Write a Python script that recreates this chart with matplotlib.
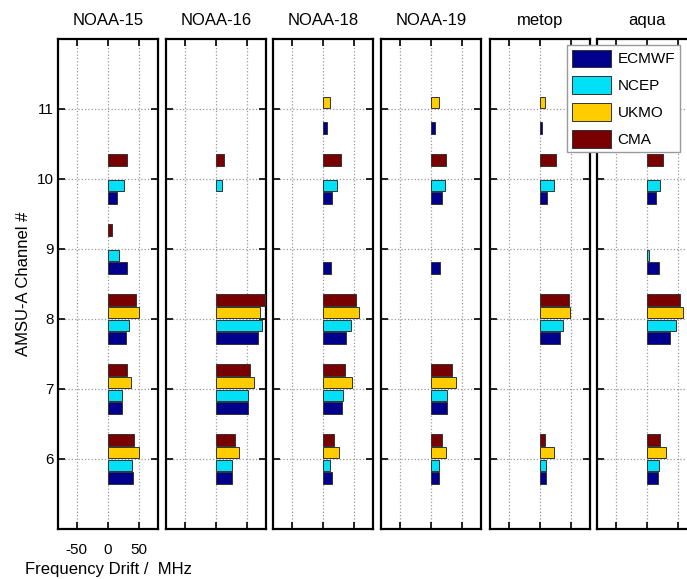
import numpy as np
import matplotlib
matplotlib.use("Agg")
import matplotlib.pyplot as plt

plt.rcParams['font.family'] = ['Liberation Sans', 'DejaVu Sans']
plt.rcParams['axes.unicode_minus'] = False

# canales AMSU-A y centros
canales = [6, 7, 8, 9, 10, 11]
centros = ["ECMWF", "NCEP", "UKMO", "CMA"]
colores = ["#00008C", "#00E1F8", "#FFCC00", "#780000"]
satelites = ["NOAA-15", "NOAA-16", "NOAA-18", "NOAA-19", "metop", "aqua"]

# deriva de frecuencia (MHz), una lista por canal 6..11 (0 = sin barra)
noaa15_ecmwf = [40, 23, 28, 31, 14, 0]
noaa15_ncep = [38, 23, 33, 17, 26, 0]
noaa15_ukmo = [50, 37, 50, 0, 0, 0]
noaa15_cma = [42, 31, 44, 7, 31, 0]

noaa16_ecmwf = [25, 51, 67, 0, 0, 0]
noaa16_ncep = [25, 51, 73, 0, 9, 0]
noaa16_ukmo = [37, 60, 71, 0, 0, 0]
noaa16_cma = [31, 55, 79, 0, 13, 0]

noaa18_ecmwf = [14, 30, 36, 12, 15, 6.5]
noaa18_ncep = [11, 32, 45, 0, 22, 0]
noaa18_ukmo = [26, 46, 58, 0, 0, 11]
noaa18_cma = [17, 35, 52, 0, 28, 0]

noaa19_ecmwf = [12, 26, 0, 15, 17, 6.5]
noaa19_ncep = [12, 26, 0, 0, 22, 0]
noaa19_ukmo = [24, 40, 0, 0, 0, 12]
noaa19_cma = [17, 34, 0, 0, 24, 0]

metop_ecmwf = [9, 0, 32, 0, 11, 3]
metop_ncep = [9, 0, 37, 0, 22, 0]
metop_ukmo = [22, 0, 48, 0, 0, 8]
metop_cma = [7.5, 0, 46, 0, 26, 0]

aqua_ecmwf = [17, 0, 37, 19, 14, 0]
aqua_ncep = [19, 0, 46, 3, 21, 0]
aqua_ukmo = [30, 0, 58, 0, 0, 0]
aqua_cma = [21, 0, 53, 0, 26, 0]

datos = [
    [noaa15_ecmwf, noaa15_ncep, noaa15_ukmo, noaa15_cma],
    [noaa16_ecmwf, noaa16_ncep, noaa16_ukmo, noaa16_cma],
    [noaa18_ecmwf, noaa18_ncep, noaa18_ukmo, noaa18_cma],
    [noaa19_ecmwf, noaa19_ncep, noaa19_ukmo, noaa19_cma],
    [metop_ecmwf, metop_ncep, metop_ukmo, metop_cma],
    [aqua_ecmwf, aqua_ncep, aqua_ukmo, aqua_cma],
]

W, H = 687, 579
fig = plt.figure(figsize=(W / 100, H / 100), dpi=100)

lefts = [58, 166, 273, 381, 490, 597]
top, bottom, ancho = 39, 529, 100
desp = [-0.27, -0.09, 0.09, 0.27]
alto = 0.165

y = np.array(canales)
hs = []
for i in range(len(satelites)):
    ax = fig.add_axes([lefts[i] / W, (H - bottom) / H, ancho / W, (bottom - top) / H])
    for j in range(len(centros)):
        v = np.array(datos[i][j], dtype=float)
        m = v != 0
        b = ax.barh(y[m] + desp[j], v[m], height=alto, color=colores[j],
                    edgecolor="#333333", linewidth=0.7, label=centros[j], zorder=3)
        if i == 0:
            hs.append(b)
    ax.set_xlim(-80, 80)
    ax.set_ylim(5, 12)
    ax.set_xticks([-50, 0, 50])
    ax.set_yticks(canales)
    ax.grid(True, linestyle=":", color="#999999", linewidth=0.9)
    ax.tick_params(direction="in", top=True, right=True, length=5, width=1.2,
                   labelsize=11)
    ax.tick_params(axis="x", pad=10)
    ax.tick_params(axis="y", pad=3)
    for s in ax.spines.values():
        s.set_linewidth(1.6)
    ax.set_title(satelites[i], fontsize=12, pad=10)
    if i == 0:
        ax.set_ylabel("AMSU-A Channel #", fontsize=12, labelpad=4)
        ax.set_xlabel("Frequency Drift /  MHz", fontsize=12, labelpad=4)
    else:
        ax.set_yticklabels([])
        ax.set_xticklabels([])

fig.legend(hs, centros, loc="upper left", bbox_to_anchor=(567 / W, 1 - 45 / H),
           borderaxespad=0, fontsize=11, handlelength=2.6, handleheight=1.4,
           labelspacing=0.6, handletextpad=0.4, borderpad=0.3, fancybox=False,
           framealpha=1, edgecolor="#999999")

plt.savefig("out.png", dpi=100)
